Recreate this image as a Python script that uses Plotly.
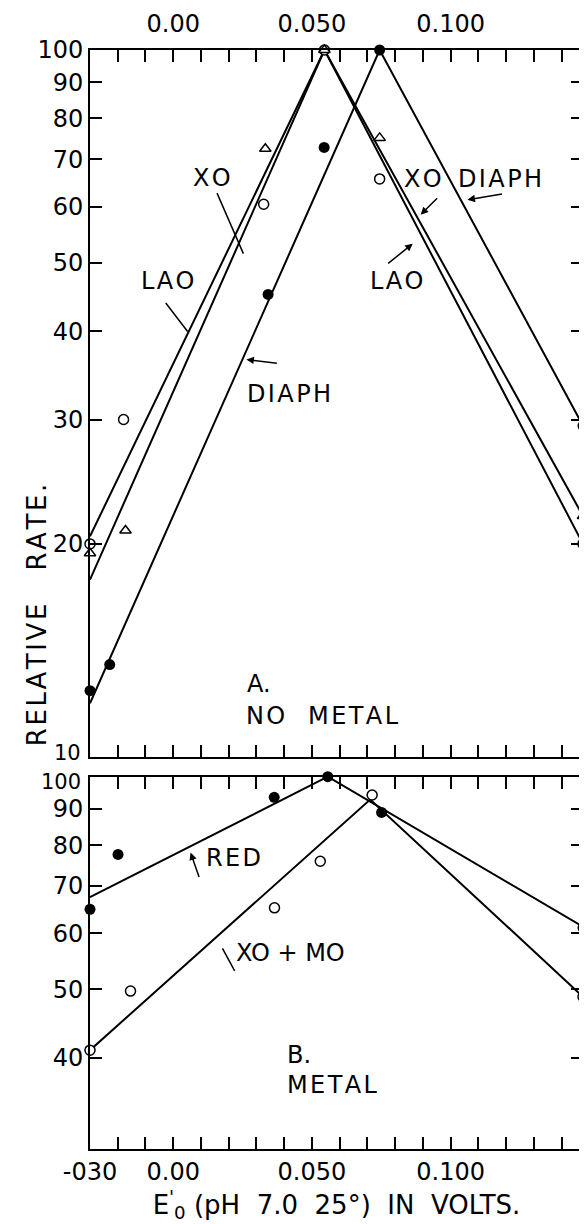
import plotly.graph_objects as go
from plotly.subplots import make_subplots

# ---- panel A: no metal ----
xo_x = [-0.030, -0.0179, 0.0326, 0.0545, 0.0744, 0.1477]
xo_y = [20.0, 30.0, 60.5, 100, 65.7, 20.0]
lao_x = [-0.030, -0.0172, 0.0332, 0.0545, 0.0744, 0.1477]
lao_y = [19.4, 20.9, 72.5, 100, 75.1, 21.9]
diaph_x = [-0.030, -0.0229, 0.0342, 0.0544, 0.0744, 0.1477]
diaph_y = [12.4, 13.5, 45.1, 72.8, 100, 29.4]

# hand drawn lines through panel A
xo_line_x = [-0.030, 0.0545, 0.1477]
xo_line_y = [20.5, 100, 20.0]
lao_line_x = [-0.030, 0.0545, 0.1477]
lao_line_y = [17.8, 100, 21.9]
diaph_line_x = [-0.030, 0.0744, 0.1477]
diaph_line_y = [11.9, 100, 29.4]

# ---- panel B: metal ----
red_x = [-0.030, -0.0199, 0.0364, 0.0557, 0.0751, 0.1477]
red_y = [64.9, 77.6, 93.5, 100, 89.0, 61.1]
xomo_x = [-0.030, -0.0154, 0.0365, 0.0530, 0.0717, 0.1477]
xomo_y = [41.0, 49.7, 65.2, 75.9, 94.2, 48.8]

red_line_x = [-0.030, 0.0557, 0.1477]
red_line_y = [67.5, 100, 61.3]
xomo_line_x = [-0.030, 0.0710, 0.1477]
xomo_line_y = [41.0, 92.8, 48.8]

# ---- axes ----
x_ticks = [-0.03, -0.02, -0.01, 0.0, 0.01, 0.02, 0.03, 0.04, 0.05, 0.06,
           0.07, 0.08, 0.09, 0.10, 0.11, 0.12, 0.13, 0.14]
top_labels = {0.0: "0.00", 0.05: "0.050", 0.10: "0.100"}
bottom_labels = {-0.03: "-030", 0.0: "0.00", 0.05: "0.050", 0.10: "0.100"}
ya_ticks = [10, 20, 30, 40, 50, 60, 70, 80, 90, 100]
yb_ticks = [40, 50, 60, 70, 80, 90, 100]

FONT = "DejaVu Sans"
# page has an 8px body margin, so the figure is a bit smaller
OFF = 8
W, H = 587 - OFF, 1224 - OFF
L, R, T, B = 82, 2, 40, 75
NB = "\u00a0"


def pp(xp, yp):
    # page pixel position -> paper coords
    fx, fy = xp - OFF, yp - OFF
    return (fx - L) / (W - L - R), (H - B - fy) / (H - T - B)


def spaced(s, gap=2):
    # hand lettering is wider than the font
    return (NB * gap).join("\u200a".join(w) for w in s.split(" "))


fig = make_subplots(rows=2, cols=1, vertical_spacing=0.0)

line_style = dict(color="black", width=2)
fig.add_trace(go.Scatter(x=xo_line_x, y=xo_line_y, mode="lines", line=line_style), 1, 1)
fig.add_trace(go.Scatter(x=lao_line_x, y=lao_line_y, mode="lines", line=line_style), 1, 1)
fig.add_trace(go.Scatter(x=diaph_line_x, y=diaph_line_y, mode="lines", line=line_style), 1, 1)
fig.add_trace(go.Scatter(x=red_line_x, y=red_line_y, mode="lines", line=line_style), 2, 1)
fig.add_trace(go.Scatter(x=xomo_line_x, y=xomo_line_y, mode="lines", line=line_style), 2, 1)

open_circle = dict(symbol="circle", size=10, color="white", line=dict(color="black", width=1.5))
open_tri = dict(symbol="triangle-up", size=10, color="white", line=dict(color="black", width=1.5))
filled = dict(symbol="circle", size=11, color="black")

fig.add_trace(go.Scatter(x=xo_x, y=xo_y, mode="markers", marker=open_circle, cliponaxis=False), 1, 1)
fig.add_trace(go.Scatter(x=lao_x, y=lao_y, mode="markers", marker=open_tri, cliponaxis=False), 1, 1)
fig.add_trace(go.Scatter(x=diaph_x, y=diaph_y, mode="markers", marker=filled, cliponaxis=False), 1, 1)
fig.add_trace(go.Scatter(x=red_x, y=red_y, mode="markers", marker=filled, cliponaxis=False), 2, 1)
fig.add_trace(go.Scatter(x=xomo_x, y=xomo_y, mode="markers", marker=open_circle, cliponaxis=False), 2, 1)

tick_font = dict(family=FONT, size=24, color="black")
axis_common = dict(
    showgrid=False, zeroline=False, showline=True, linecolor="black", linewidth=2,
    ticks="inside", ticklen=12, tickwidth=1.5, tickcolor="black", mirror="ticks",
    tickfont=tick_font,
)

x_title = ("E<sup>'</sup><sub>0</sub>" + NB + "(pH" + NB * 2 + "7.0" + NB * 2 + "25°)"
           + NB * 2 + "IN" + NB * 2 + "VOLTS.")

fig.update_xaxes(
    range=[-0.030, 0.1477], tickvals=x_ticks,
    ticktext=[top_labels.get(round(v, 2), "") for v in x_ticks],
    side="top", ticklabelstandoff=6, row=1, col=1, **axis_common,
)
fig.update_xaxes(
    range=[-0.030, 0.1477], tickvals=x_ticks,
    ticktext=[bottom_labels.get(round(v, 2), "") for v in x_ticks],
    title=dict(text=x_title, font=dict(family=FONT, size=26, color="black"), standoff=4),
    row=2, col=1, **axis_common,
)
# the 10 / 100 labels where the panels meet are added below, nudged apart
fig.update_yaxes(
    type="log", range=[1, 2], tickvals=ya_ticks,
    ticktext=["" if v == 10 else str(v) for v in ya_ticks],
    domain=[0.357, 1.0], row=1, col=1, **axis_common,
)
fig.update_yaxes(
    type="log", range=[1.4728, 2], tickvals=yb_ticks,
    ticktext=["" if v == 100 else str(v) for v in yb_ticks],
    domain=[0.0, 0.3388], row=2, col=1, **axis_common,
)
for text, yp in [("10", 752), ("100", 781)]:
    ex, ey = pp(83, yp)
    fig.add_annotation(x=ex, y=ey, xref="paper", yref="paper", text=text,
                       showarrow=False, xanchor="right", yanchor="middle",
                       font=dict(family=FONT, size=21, color="black"))

# text labels
labels = [
    (spaced("XO"), 212, 176, "center"),
    (spaced("XO"), 424, 177, "center"),
    (spaced("DIAPH"), 502, 177, "center"),
    (spaced("LAO"), 168, 279, "center"),
    (spaced("LAO"), 398, 279, "center"),
    (spaced("DIAPH"), 290, 393, "center"),
    ("A.", 246, 683, "left"),
    (spaced("NO METAL", 3), 245, 715, "left"),
    (spaced("RED"), 234, 857, "center"),
    ("XO + MO", 291, 953, "center"),
    ("B.", 286, 1055, "left"),
    (spaced("METAL"), 286, 1085, "left"),
]
for text, xp, yp, anchor in labels:
    ax_, ay_ = pp(xp, yp)
    fig.add_annotation(x=ax_, y=ay_, xref="paper", yref="paper", text=text,
                       showarrow=False, xanchor=anchor, yanchor="middle",
                       font=dict(family=FONT, size=24, color="black"))

# hand drawn pointers (tail -> tip)
pointers = [
    (217, 190, 244, 252, 0),
    (165, 300, 188, 330, 0),
    (440, 195, 422, 213, 2),
    (505, 192, 469, 198, 2),
    (388, 263, 414, 242, 2),
    (279, 362, 247, 358, 2),
    (200, 878, 191, 852, 2),
    (236, 972, 223, 948, 0),
]
for tx, ty, hx, hy, head in pointers:
    px_, py_ = pp(hx, hy)
    fig.add_annotation(x=px_, y=py_, xref="paper", yref="paper", text="",
                       showarrow=True, arrowhead=head, arrowsize=1, arrowwidth=1.5,
                       arrowcolor="black", ax=tx - hx, ay=ty - hy)

yt_x, yt_y = pp(20, 614)
fig.add_annotation(x=yt_x, y=yt_y, xref="paper", yref="paper",
                   text=spaced("RELATIVE RATE.", 4), textangle=-90, showarrow=False,
                   font=dict(family=FONT, size=26, color="black"))

fig.update_layout(
    width=W, height=H, margin=dict(l=L, r=R, t=T, b=B),
    paper_bgcolor="white", plot_bgcolor="white", showlegend=False,
)

fig.write_html("out.html")
